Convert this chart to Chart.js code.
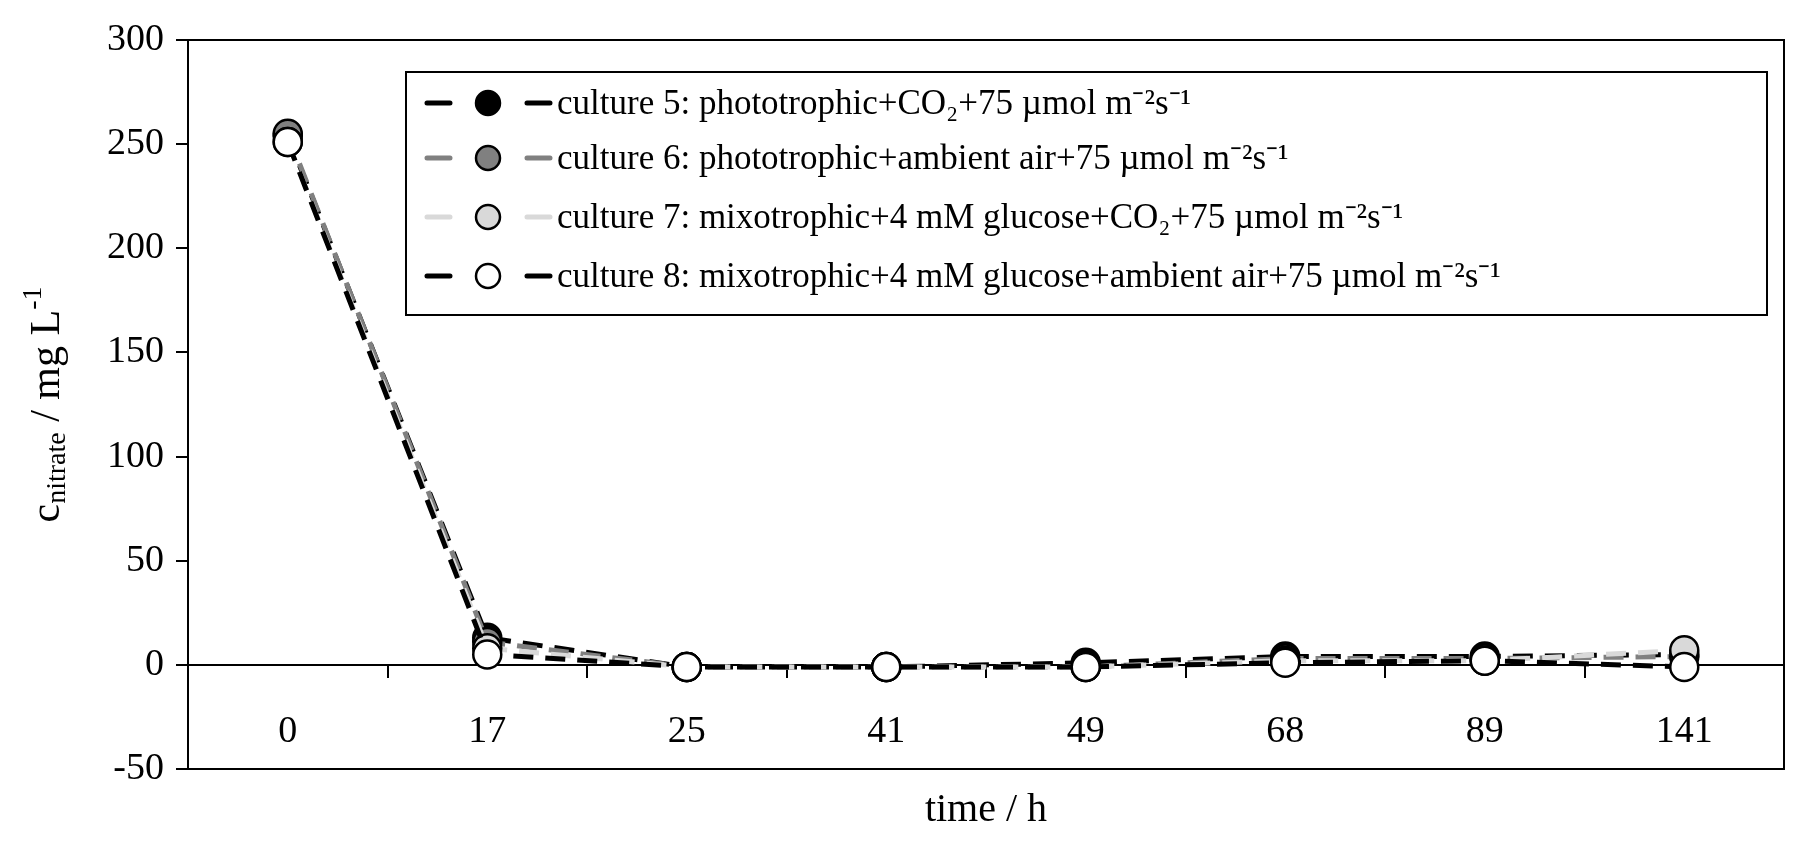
<!DOCTYPE html>
<html><head><meta charset="utf-8">
<script src="https://cdn.jsdelivr.net/npm/chart.js@4"></script>
<style>html,body{margin:0;padding:0;background:#fff}#w{width:1807px;height:849px}</style>
</head><body><div id="w"><canvas id="c"></canvas></div>
<script>
const categories=['0','17','25','41','49','68','89','141'];
const culture5=[254,13,-1,-1,1,4,4,5];
const culture6=[255,11,-1,-1,-1,3,3,4];
const culture7=[251,8,-1,-1,-1,2,2,7];
const culture8=[251,5,-1,-1,-1,1,2,-1];
const seriesLabels=['culture 5: phototrophic+CO₂+75 µmol m⁻²s⁻¹','culture 6: phototrophic+ambient air+75 µmol m⁻²s⁻¹','culture 7: mixotrophic+4 mM glucose+CO₂+75 µmol m⁻²s⁻¹','culture 8: mixotrophic+4 mM glucose+ambient air+75 µmol m⁻²s⁻¹'];
const yTicks=[-50,0,50,100,150,200,250,300];
const FONT='"Liberation Serif", serif';
const lineCols=['#000','#808080','#d9d9d9','#000'];
const fillCols=['#000','#808080','#d9d9d9','#fff'];
const data=[culture5,culture6,culture7,culture8];
const ds=data.map((d,i)=>({label:seriesLabels[i],data:d,order:-i,borderColor:lineCols[i],backgroundColor:fillCols[i],pointBackgroundColor:fillCols[i],pointBorderColor:'#000',pointBorderWidth:2.5,pointRadius:14,borderWidth:5,borderDash:[20,12],tension:0}));
const frame={id:'frame',afterDraw(ch){const c=ch.ctx,a=ch.chartArea;c.save();c.strokeStyle='#000';c.lineWidth=2;c.strokeRect(a.left,a.top,a.right-a.left,a.bottom-a.top);
const lx=406,ly=72,lw=1361,lh=243;c.fillStyle='#fff';c.fillRect(lx,ly,lw,lh);c.strokeRect(lx,ly,lw,lh);
const rows=[103,158,217,276];c.font='35px '+FONT;c.textBaseline='middle';
ch.data.datasets.forEach((d,i)=>{const y=rows[i];c.strokeStyle=d.borderColor;c.lineWidth=5;c.lineCap='round';c.beginPath();c.moveTo(427,y);c.lineTo(450,y);c.moveTo(527,y);c.lineTo(550,y);c.stroke();
c.beginPath();c.arc(488,y,12,0,Math.PI*2);c.fillStyle=d.pointBackgroundColor;c.fill();c.lineWidth=2.5;c.strokeStyle='#000';c.stroke();
c.fillStyle='#000';c.textAlign='left';c.fillText(d.label,557,y+2);});
c.font='40px '+FONT;c.textAlign='center';c.fillText('time / h',(a.left+a.right)/2,810);
c.translate(48,(a.top+a.bottom)/2);c.rotate(-Math.PI/2);c.textAlign='left';
const p1='c',p2='nitrate',p3=' / mg L',p4='-1';c.font='42px '+FONT;const w1=c.measureText(p1).width;c.font='28px '+FONT;const w2=c.measureText(p2).width;c.font='42px '+FONT;const w3=c.measureText(p3).width;c.font='28px '+FONT;const w4=c.measureText(p4).width;
let x=-(w1+w2+w3+w4)/2;c.font='42px '+FONT;c.fillText(p1,x,0);x+=w1;c.font='28px '+FONT;c.fillText(p2,x,10);x+=w2;c.font='42px '+FONT;c.fillText(p3,x,0);x+=w3;c.font='28px '+FONT;c.fillText(p4,x,-14);
c.restore();}};
new Chart(document.getElementById('c'),{type:'line',data:{labels:categories,datasets:ds},plugins:[frame],
options:{responsive:true,maintainAspectRatio:false,animation:false,layout:{padding:{left:0,right:23,top:40,bottom:80}},
plugins:{legend:{display:false},tooltip:{enabled:false}},
scales:{x:{type:'category',position:{y:0},offset:true,grid:{offset:true,drawOnChartArea:false,color:'#000',lineWidth:2,tickLength:12},border:{color:'#000',width:2},ticks:{color:'#000',padding:32,font:{family:FONT,size:38}}},
y:{min:-50,max:300,afterBuildTicks(s){s.ticks=yTicks.map(v=>({value:v}));},afterFit(s){s.width=188;},grid:{drawOnChartArea:false,color:'#000',lineWidth:2,tickLength:12},border:{color:'#000',width:2},ticks:{color:'#000',padding:12,font:{family:FONT,size:38}}}}}});
</script></body></html>
